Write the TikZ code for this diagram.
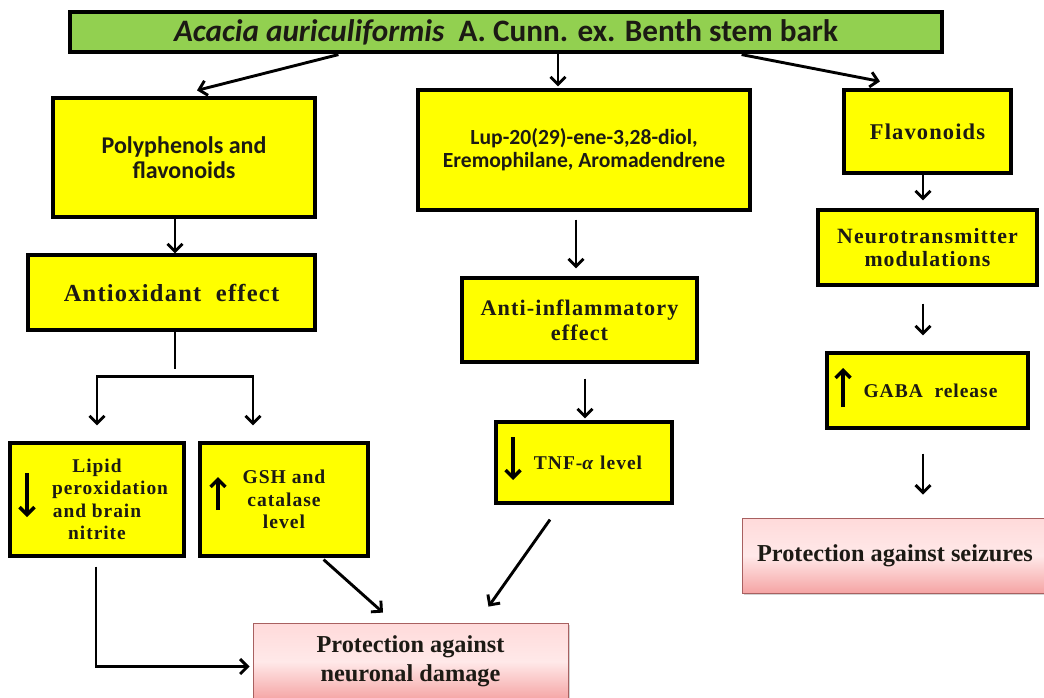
\documentclass[tikz,border=0pt]{standalone}
\usepackage{fontspec}
\setmainfont{Liberation Serif}
\newfontfamily\calfont{Carlito}
\newfontfamily\tnrs{Liberation Serif}[LetterSpace=5]
\usetikzlibrary{arrows.meta,shadows,calc}
\definecolor{yboxc}{HTML}{FFFF00}
\definecolor{gboxc}{HTML}{92D050}
\definecolor{pinktop}{HTML}{FFDADA}
\definecolor{pinkbot}{HTML}{F5A4A4}
\definecolor{pinkedge}{HTML}{A86060}
\definecolor{txtc}{HTML}{1C1A14}
\tikzset{
  ybox/.style={draw=black, line width=3.2pt, fill=yboxc, align=center, inner sep=2pt,
    text=txtc, font=\tnrs\bfseries\fontsize{19.5}{23}\selectfont},
  ysans/.style={ybox, font=\calfont\bfseries\fontsize{24}{25}\selectfont},
  gbox/.style={draw=black, line width=3.2pt, fill=gboxc, align=center, inner sep=2pt, text=txtc},
  pbox/.style={draw=pinkedge, line width=0.8pt, top color=pinktop, bottom color=pinkbot,
    middle color=pinktop!60!white, align=center, inner sep=2pt, text=txtc,
    font=\bfseries\fontsize{24.3}{29}\selectfont,
    drop shadow={opacity=0.35, shadow xshift=2pt, shadow yshift=-2pt}},
  arr/.style={line width=2.9pt, -{Straight Barb[length=7.5pt,width=15pt]}},
  iarr/.style={line width=3.4pt, -{Straight Barb[length=7.5pt,width=15pt]}},
  darr/.style={line width=2.9pt, {Straight Barb[length=7.5pt,width=15pt]}-{Straight Barb[length=7.5pt,width=15pt]}},
  plain/.style={line width=2.9pt}
}
\begin{document}
\begin{tikzpicture}[x=1pt,y=-1pt]
\useasboundingbox (0,0) rectangle (1044,698);
\fill[white] (0,0) rectangle (1044,698);
\begin{scope}
\clip (0,0) rectangle (1044,698);
% nodes
\node[gbox, minimum width=872pt, minimum height=40pt] (title) at (506,32)
  {\calfont\bfseries\fontsize{31.2}{32}\selectfont\textit{Acacia auriculiformis}\ \ A. Cunn. ex. Benth stem bark};
\node[ysans, minimum width=262pt, minimum height=119pt] (poly) at (184,157.5) {Polyphenols and\\flavonoids};
\node[ybox, minimum width=287pt, minimum height=75pt, font=\tnrs\bfseries\fontsize{24.5}{26}\selectfont] (antiox) at (171.5,292.5) {Antioxidant\ \ effect};
\node[ybox, minimum width=174pt, minimum height=113pt, font=\tnrs\bfseries\fontsize{19.4}{22.5}\selectfont] (lipid) at (97,499.5) {Lipid\\\hspace*{26pt}peroxidation\\and brain\\nitrite};
\node[ybox, minimum width=168pt, minimum height=113pt, font=\tnrs\bfseries\fontsize{19.6}{22.5}\selectfont] (gsh) at (284,499.5) {GSH and\\catalase\\level};
\node[ysans, minimum width=332pt, minimum height=120pt, font=\calfont\bfseries\fontsize{21.6}{23}\selectfont] (lup) at (584,150) {Lup-20(29)-ene-3,28-diol,\\Eremophilane, Aromadendrene};
\node[ybox, minimum width=235pt, minimum height=84pt, font=\tnrs\bfseries\fontsize{22.2}{25}\selectfont] (antiinf) at (579.5,320) {Anti-inflammatory\\effect};
\node[ybox, minimum width=176pt, minimum height=81pt, font=\tnrs\bfseries\fontsize{19.5}{22}\selectfont] (tnf) at (584,462.5) {\hspace*{8pt}TNF-\textit{α} level};
\node[ybox, minimum width=167pt, minimum height=83pt, font=\tnrs\bfseries\fontsize{22.5}{23}\selectfont] (flav) at (927.5,131.5) {Flavonoids};
\node[ybox, minimum width=219pt, minimum height=75pt, font=\tnrs\bfseries\fontsize{21.8}{23}\selectfont] (neuro) at (927.5,247.5) {Neurotransmitter\\modulations};
\node[ybox, minimum width=201pt, minimum height=75pt, font=\tnrs\bfseries\fontsize{19.5}{22}\selectfont] (gaba) at (927.5,390.5) {\hspace*{6pt}GABA\ \ release};
\node[pbox, minimum width=306pt, minimum height=75pt] (seiz) at (895,555.5) {Protection against seizures};
\node[pbox, minimum width=315pt, minimum height=77pt] (neuronal) at (410.5,661.5) {Protection against\\neuronal damage};
% connectors
\draw[arr] ($(title.south west)+(270,1)$) -- ($(poly.north)+(13,-6)$);
\draw[arr] ($(title.south)+(52,0)$) -- ($(lup.north)+(-26,-2)$);
\draw[arr] ($(title.south east)+(-202,1)$) -- ($(flav.north)+(-47.5,-7)$);
\draw[arr] ($(poly.south)+(-9,0)$) -- ($(antiox.north)+(3.5,0)$);
\draw[plain] ($(antiox.south)+(3.5,0)$) -- ($(antiox.south)+(3.5,37)$);
\coordinate (br) at ($(antiox.south)+(3.5,45)$);
\draw[darr] ($(lipid.north)+(0,-16)$) |- (br) -| ($(gsh.north)+(-31,-16)$);
\draw[arr] ($(lup.south)+(-8,8)$) -- ($(antiinf.north)+(-3.5,-8)$);
\draw[arr] ($(antiinf.south)+(5.5,15)$) -- ($(tnf.north)+(1,-2)$);
\draw[arr] ($(flav.south)+(-4.5,0)$) -- ($(neuro.north)+(-4.5,-8)$);
\draw[arr] ($(neuro.south)+(-4.5,17)$) -- ($(gaba.north)+(-4.5,-16)$);
\draw[arr] ($(gaba.south)+(-4.5,24)$) -- ($(seiz.north)+(28,-23)$);
\draw[arr] ($(lipid.south)+(-1,9)$) |- ($(neuronal.west)+(-3,5)$);
\draw[arr] ($(gsh.south east)+(-46,2)$) -- ($(neuronal.north)+(-27.5,-10)$);
\draw[arr] ($(tnf.south)+(-34,15)$) -- ($(neuronal.north)+(78,-16)$);
% arrows inside boxes
\draw[iarr] ($(lipid.center)+(-70,-26.5)$) -- ($(lipid.center)+(-70,17.5)$);
\draw[iarr] ($(gsh.center)+(-66,10.5)$) -- ($(gsh.center)+(-66,-22.5)$);
\draw[iarr] ($(tnf.center)+(-71,-25.5)$) -- ($(tnf.center)+(-71,17.5)$);
\draw[iarr] ($(gaba.center)+(-84.5,16.5)$) -- ($(gaba.center)+(-84.5,-22.5)$);
\end{scope}
\end{tikzpicture}
\end{document}
